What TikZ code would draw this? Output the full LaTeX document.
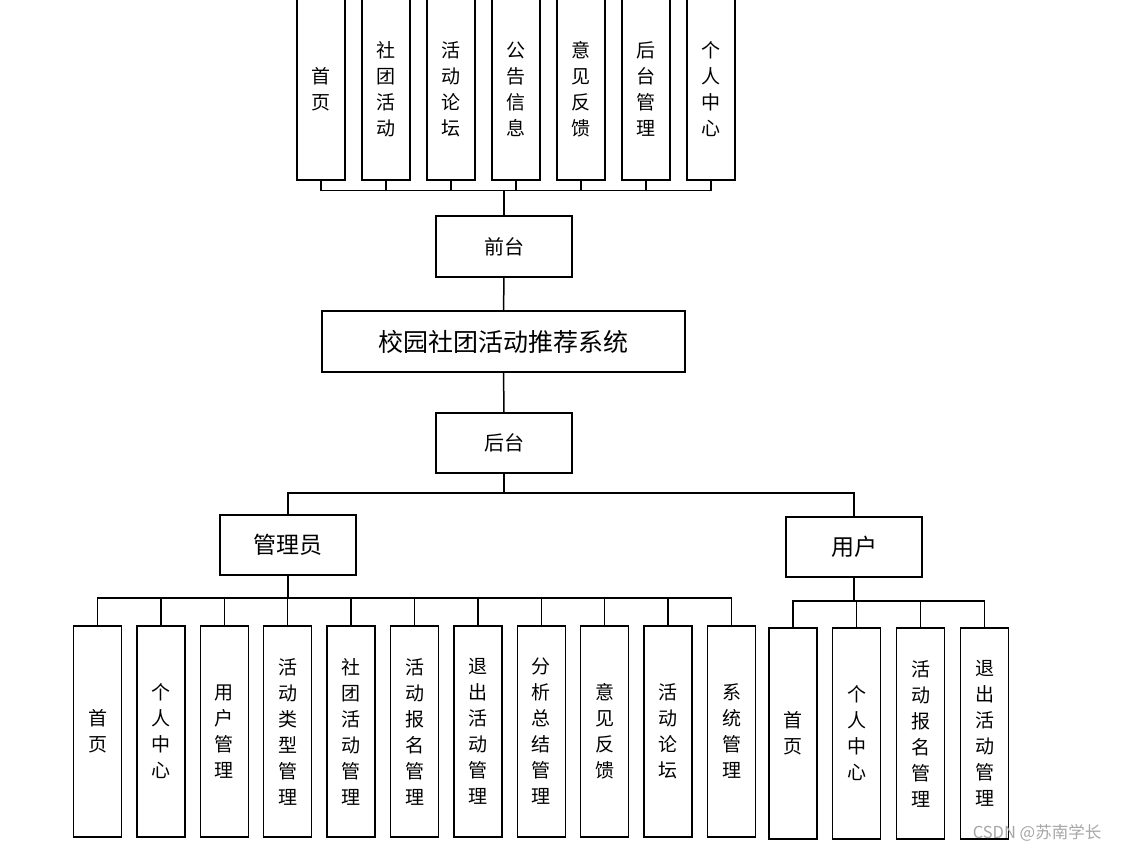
\documentclass[tikz,border=0pt]{standalone}
\usepackage{fontspec}
\newfontfamily\cjk{Noto Sans CJK SC}
\begin{document}
\begin{tikzpicture}[x=1pt,y=-1pt,
  box/.style={draw=black, line width=1.5pt, fill=white, inner sep=0pt, align=center},
  vbox/.style={box, minimum width=48pt, font=\cjk\fontsize{19}{26}\selectfont},
  hbox/.style={box, minimum width=136pt, minimum height=60pt},
  conn/.style={draw=black, line width=1.5pt}]
\useasboundingbox (0,0) rectangle (1122,852);
% top modules
\foreach \i/\t in {0/{首\\页},1/{社\\团\\活\\动},2/{活\\动\\论\\坛},3/{公\\告\\信\\息},4/{意\\见\\反\\馈},5/{后\\台\\管\\理},6/{个\\人\\中\\心}}{
  \node[vbox, minimum height=182pt] (t\i) at ({321+65*\i},89) {\t};
}
\node[hbox, minimum height=61pt, font=\cjk\fontsize{20}{24}\selectfont] (front) at (504,246.5) {前台};
\node[box, minimum width=363pt, minimum height=61pt, font=\cjk\fontsize{25}{30}\selectfont] (main) at (503.5,341.5) {校园社团活动推荐系统};
\node[hbox, font=\cjk\fontsize{20}{24}\selectfont] (back) at (504,443) {后台};
\node[hbox, font=\cjk\fontsize{23}{28}\selectfont] (admin) at (288,545) {管理员};
\node[hbox, font=\cjk\fontsize{23}{28}\selectfont] (user) at (854,547) {用户};
% admin modules
\foreach \i/\t in {0/{首\\页},1/{个\\人\\中\\心},2/{用\\户\\管\\理},3/{活\\动\\类\\型\\管\\理},4/{社\\团\\活\\动\\管\\理},5/{活\\动\\报\\名\\管\\理},6/{退\\出\\活\\动\\管\\理},7/{分\\析\\总\\结\\管\\理},8/{意\\见\\反\\馈},9/{活\\动\\论\\坛},10/{系\\统\\管\\理}}{
  \node[vbox, minimum height=211pt] (a\i) at ({97.5+63.4*\i},731.5) {\t};
}
% user modules
\foreach \i/\x/\t in {0/793/{首\\页},1/856.5/{个\\人\\中\\心},2/920.5/{活\\动\\报\\名\\管\\理},3/984.5/{退\\出\\活\\动\\管\\理}}{
  \node[vbox, minimum height=211pt] (u\i) at (\x,733.5) {\t};
}
% connectors
\foreach \i in {0,...,6}{ \draw[conn] (front.north) -- ++(0,-25) -| (t\i.south); }
\draw[conn] (front) -- (main);
\draw[conn] (main) -- (back);
\draw[conn] (back.south) -- ++(0,19) -| (admin.north);
\draw[conn] (back.south) -- ++(0,19) -| (user.north);
\foreach \i in {0,...,10}{ \draw[conn] (admin.south) -- ++(0,22) -| (a\i.north); }
\foreach \i in {0,...,3}{ \draw[conn] (user.south) -- ++(0,23) -| (u\i.north); }
% watermark
\node[text=black!35, font=\cjk\fontsize{16.5}{19}\selectfont, inner sep=0pt] (wm) at (1037,833) {CSDN @苏南学长};
\end{tikzpicture}
\end{document}
